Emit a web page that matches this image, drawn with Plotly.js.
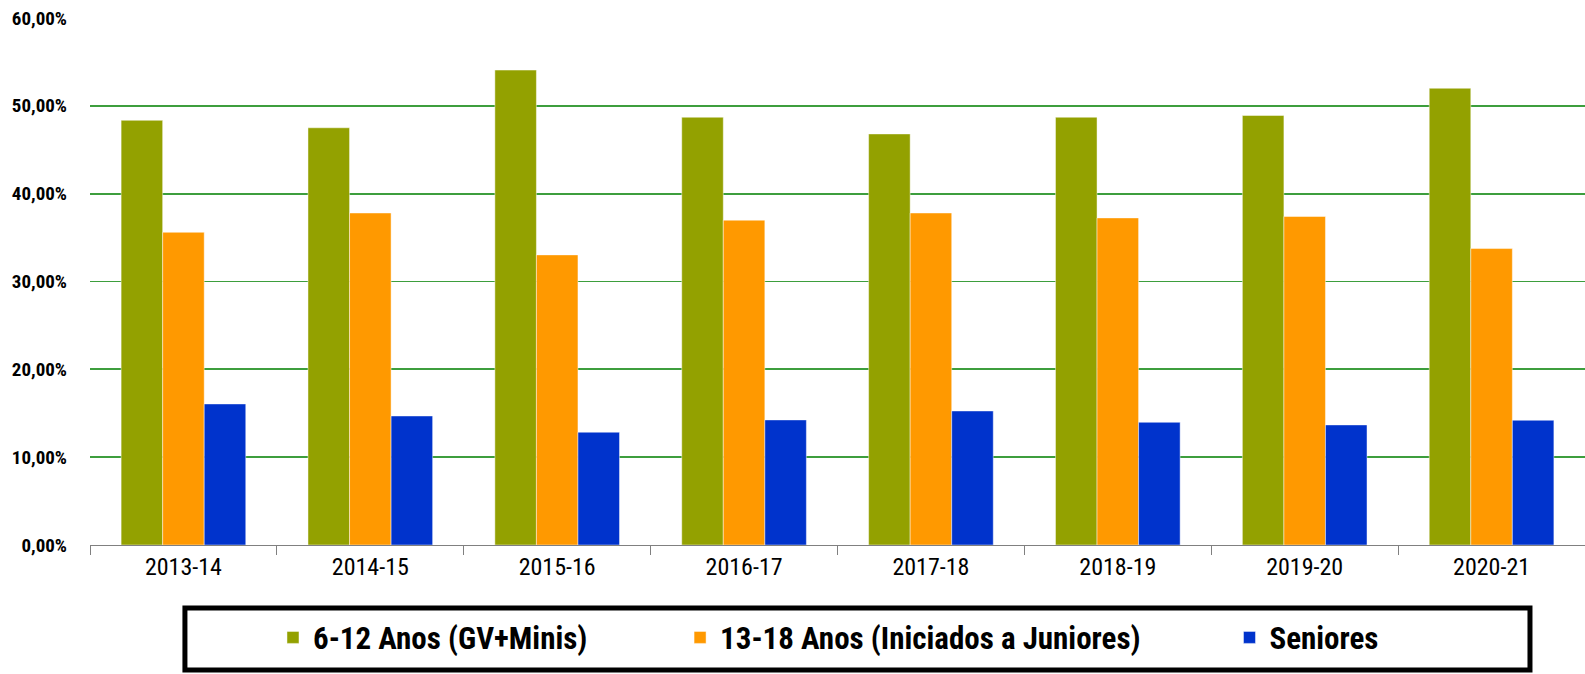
<!DOCTYPE html>
<html>
<head>
<meta charset="utf-8">
<script src="https://cdn.plot.ly/plotly-3.0.1.min.js"></script>
<style>html,body{margin:0;padding:0;background:#fff}#chart{width:1585px;height:674px}
#chart text{font-stretch:condensed}</style>
</head>
<body>
<div id="chart"></div>
<script>
const seasons = ["2013-14","2014-15","2015-16","2016-17","2017-18","2018-19","2019-20","2020-21"];
const series1Name = "6-12 Anos (GV+Minis)";
const series2Name = "13-18 Anos (Iniciados a Juniores)";
const series3Name = "Seniores";
const minis = [48.35, 47.50, 54.07, 48.70, 46.80, 48.70, 48.90, 52.00];
const juniores = [35.60, 37.80, 33.03, 36.98, 37.80, 37.24, 37.40, 33.75];
const seniores = [16.06, 14.69, 12.84, 14.24, 15.26, 13.97, 13.67, 14.20];
const yTicks = [0, 10, 20, 30, 40, 50, 60];
const yTickLabels = ["0,00%", "10,00%", "20,00%", "30,00%", "40,00%", "50,00%", "60,00%"];

const FONT = "'Roboto Condensed', 'DejaVu Sans Condensed', 'Liberation Sans Narrow', 'Open Sans Condensed', Roboto, sans-serif";
const edge = {color: 'rgba(255,255,255,0.45)', width: 1};

const traces = [
  {type:'bar', name: series1Name, x: seasons, y: minis, marker:{color:'#93A100', line: edge}, legend:'legend'},
  {type:'bar', name: series2Name, x: seasons, y: juniores, marker:{color:'#FF9900', line: edge}, legend:'legend2'},
  {type:'bar', name: series3Name, x: seasons, y: seniores, marker:{color:'#0033CC', line: edge}, legend:'legend3'}
];

const legFont = {family: FONT, size: 31, color: '#000', weight: 'bold'};
const legBase = {orientation:'h', yanchor:'middle', xanchor:'left', y:-0.176, bgcolor:'rgba(0,0,0,0)', borderwidth:0, font: legFont};

const layout = {
  width: 1585, height: 674,
  margin: {l: 90, r: 0, t: 18, b: 129},
  paper_bgcolor: '#fff', plot_bgcolor: '#fff',
  barmode: 'group', bargap: 0.333, bargroupgap: 0,
  showlegend: true,
  legend: Object.assign({}, legBase, {x: 0.1224}),
  legend2: Object.assign({}, legBase, {x: 0.3947}),
  legend3: Object.assign({}, legBase, {x: 0.7622}),
  xaxis: {
    type: 'category',
    tickson: 'boundaries', ticks: 'outside', ticklen: 9, tickcolor: '#808080', tickwidth: 1,
    showline: true, linecolor: '#808080', linewidth: 1,
    showgrid: false, zeroline: false,
    tickfont: {family: FONT, size: 24, color: '#000', weight: 400}
  },
  yaxis: {
    range: [0, 60], tickvals: yTicks, ticktext: yTickLabels,
    showgrid: true, gridcolor: '#3d9e3d', gridwidth: 1.8,
    zeroline: false, showline: false, ticks: '',
    ticklabelstandoff: 22,
    tickfont: {family: FONT, size: 19, color: '#000', weight: 'bold'}
  },
  shapes: [{
    type: 'rect', xref: 'paper', yref: 'paper',
    x0: 0.0635, x1: 0.9632, y0: -0.237, y1: -0.1195,
    line: {color: '#000', width: 5}, fillcolor: 'rgba(0,0,0,0)', layer: 'below'
  }]
};

Plotly.newPlot('chart', traces, layout, {displayModeBar: false, staticPlot: true});
</script>
</body>
</html>
